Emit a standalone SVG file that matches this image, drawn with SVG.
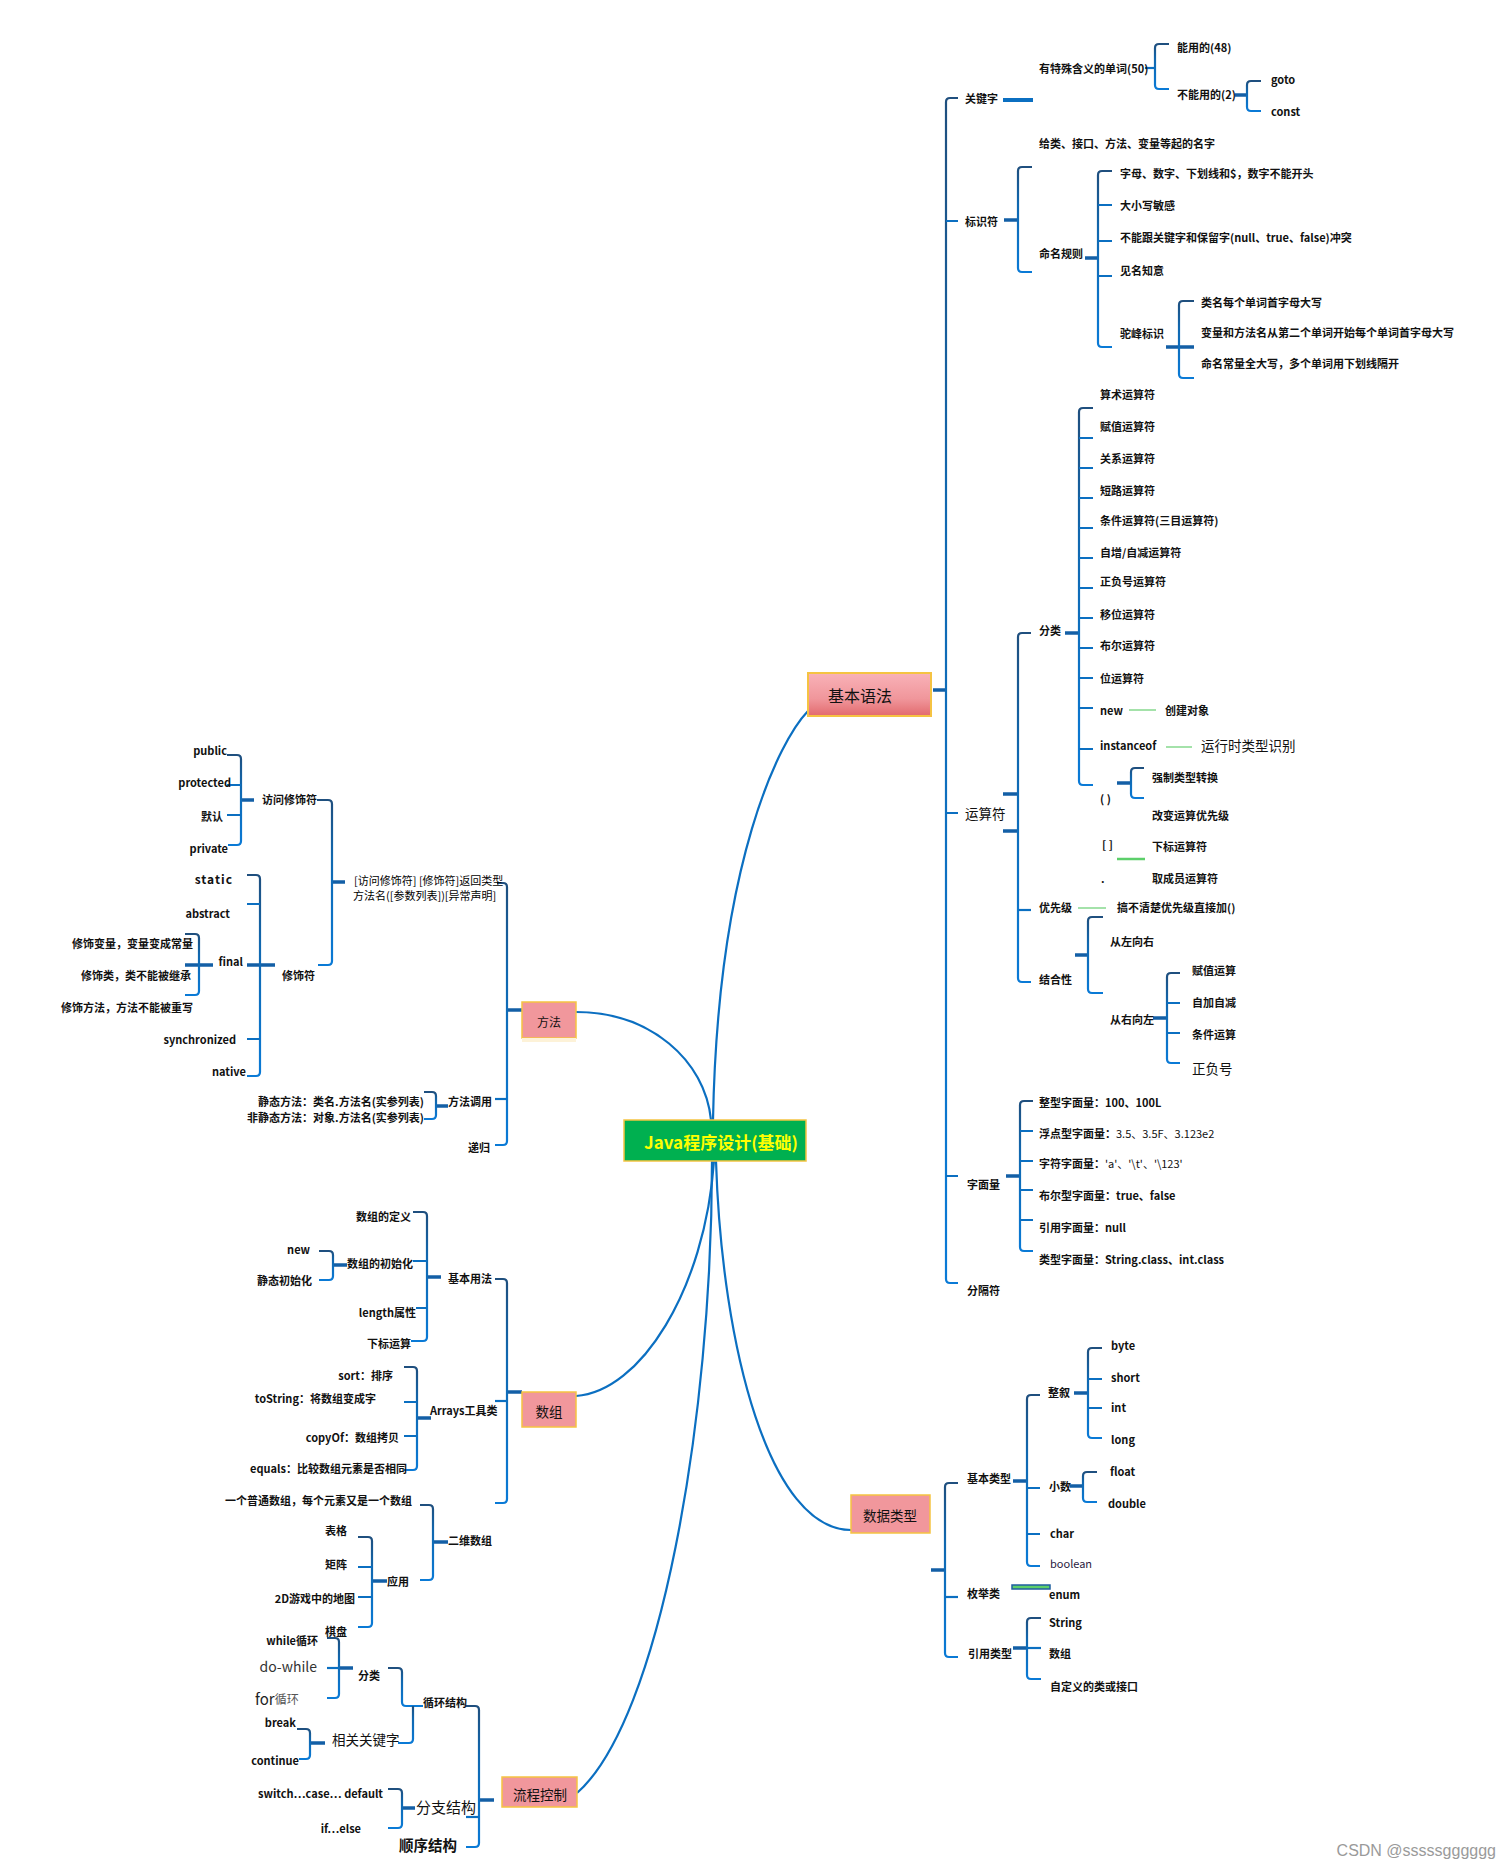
<svg xmlns="http://www.w3.org/2000/svg" width="1511" height="1869" viewBox="0 0 1511 1869">
<defs>
<linearGradient id="g" x1="0" y1="0" x2="0" y2="1"><stop offset="0" stop-color="#1f4f7e"/><stop offset="0.35" stop-color="#1068b0"/><stop offset="1" stop-color="#0a7ad6"/></linearGradient>
<linearGradient id="pk" x1="0" y1="0" x2="0" y2="1"><stop offset="0" stop-color="#f9b2b8"/><stop offset="0.6" stop-color="#f0969b"/><stop offset="1" stop-color="#e26a6e"/></linearGradient>
<style>
text{font-family:'Noto Sans CJK SC','Noto Sans',sans-serif;font-size:11px;font-weight:700;fill:#111;dominant-baseline:central}
.e{text-anchor:end}
.r{font-weight:400}
.m{font-size:13.5px;font-weight:400}
.l{font-size:15px;font-weight:400}
.c{text-anchor:middle}
.b{fill:none;stroke:url(#g);stroke-width:2.2}
.t{fill:none;stroke:#0b6fc1;stroke-width:2.2}
.k{fill:none;stroke:#135fa6;stroke-width:3.5}
.cv{fill:none;stroke:#0b6fc1;stroke-width:2.2}
.gr{stroke:#86d98f;stroke-width:1.5}
.box{fill:#f1979c;stroke:#f5c342;stroke-width:1.5}
</style>
</defs>
<rect width="1511" height="1869" fill="#fff"/>

<g id="connectors">
<path class="cv" d="M713 1120 C718 860 780 740 808 711"/>
<path class="cv" d="M576 1012 C650 1012 705 1060 711 1120"/>
<path class="cv" d="M576 1396 C640 1392 705 1290 714 1161"/>
<path class="cv" d="M716 1161 C722 1350 770 1530 851 1530"/>
<path class="cv" d="M712 1161 C712 1420 660 1720 577 1793"/>

<path class="k" d="M933 690 H946"/>
<path class="b" d="M958 98 H950 Q946 98 946 102 V1279 Q946 1283 950 1283 H958"/>
<path class="t" d="M946 221 H958 M946 813 H958 M946 1176 H958"/>
<path d="M1003 100 H1033" stroke="#0b6fc1" stroke-width="4"/>
<path class="t" d="M1145 68 H1155"/>
<path class="b" d="M1169 44 H1159 Q1155 44 1155 48 V85 Q1155 89 1159 89 H1169"/>
<path class="k" d="M1235 95 H1247"/>
<path class="b" d="M1261 81 H1251 Q1247 81 1247 85 V107 Q1247 111 1251 111 H1261"/>
<path class="k" d="M1004 220 H1018"/>
<path class="b" d="M1032 167 H1022 Q1018 167 1018 171 V268 Q1018 272 1022 272 H1032"/>
<path class="k" d="M1085 258 H1098"/>
<path class="b" d="M1112 171 H1102 Q1098 171 1098 175 V343 Q1098 347 1102 347 H1112"/>
<path class="t" d="M1098 205 H1112 M1098 241 H1112 M1098 276 H1112"/>
<path class="k" d="M1166 347 H1194"/>
<path class="b" d="M1194 301 H1183 Q1179 301 1179 305 V374 Q1179 378 1183 378 H1194"/>
<path class="k" d="M1003 794 H1018 M1003 831 H1018"/>
<path class="b" d="M1031 633 H1022 Q1018 633 1018 637 V978 Q1018 982 1022 982 H1031"/>
<path class="t" d="M1018 910 H1031"/>
<path class="k" d="M1065 633 H1079"/>
<path class="b" d="M1093 408 H1083 Q1079 408 1079 412 V781 Q1079 785 1083 785 H1093"/>
<path class="t" d="M1079 438 H1093 M1079 468 H1093 M1079 498 H1093 M1079 528 H1093 M1079 558 H1093 M1079 588 H1093 M1079 618 H1093 M1079 648 H1093 M1079 678 H1093 M1079 708 H1093 M1079 749 H1093"/>
<path class="gr" d="M1129 710 H1156 M1166 747 H1192 M1078 908 H1106"/>
<path d="M1117 859 H1145" stroke="#5ccf6a" stroke-width="2.5"/>
<path class="k" d="M1117 783 H1131"/>
<path class="b" d="M1144 768 H1135 Q1131 768 1131 772 V794 Q1131 798 1135 798 H1144"/>
<path class="k" d="M1075 955 H1088"/>
<path class="b" d="M1103 917 H1092 Q1088 917 1088 921 V989 Q1088 993 1092 993 H1103"/>
<path class="k" d="M1153 1018 H1167"/>
<path class="b" d="M1180 973 H1171 Q1167 973 1167 977 V1059 Q1167 1063 1171 1063 H1180"/>
<path class="t" d="M1167 1003 H1180 M1167 1033 H1180"/>
<path class="k" d="M1006 1176 H1020"/>
<path class="b" d="M1033 1101 H1024 Q1020 1101 1020 1105 V1247 Q1020 1251 1024 1251 H1033"/>
<path class="t" d="M1020 1131 H1033 M1020 1161 H1033 M1020 1190 H1033 M1020 1220 H1033"/>
<path class="k" d="M931 1570 H945"/>
<path class="b" d="M958 1483 H949 Q945 1483 945 1487 V1653 Q945 1657 949 1657 H958"/>
<path class="t" d="M945 1597 H958"/>
<path class="k" d="M1013 1481 H1027"/>
<path class="b" d="M1040 1395 H1031 Q1027 1395 1027 1399 V1562 Q1027 1566 1031 1566 H1040"/>
<path class="t" d="M1027 1488 H1040 M1027 1534 H1040"/>
<path class="k" d="M1074 1393 H1088"/>
<path class="b" d="M1102 1348 H1092 Q1088 1348 1088 1352 V1434 Q1088 1438 1092 1438 H1102"/>
<path class="t" d="M1088 1379 H1102 M1088 1408 H1102"/>
<path class="k" d="M1070 1486 H1083"/>
<path class="b" d="M1097 1472 H1087 Q1083 1472 1083 1476 V1498 Q1083 1502 1087 1502 H1097"/>
<rect x="1012" y="1585" width="38" height="4" fill="#5ccf6a" stroke="#1f5fa0" stroke-width="1.5"/>
<path class="k" d="M1013 1648 H1027"/>
<path class="b" d="M1041 1618 H1031 Q1027 1618 1027 1622 V1675 Q1027 1679 1031 1679 H1041"/>
<path class="t" d="M1027 1648 H1041"/>

<path class="k" d="M522 1010 H507"/>
<path class="b" d="M497 883 H503 Q507 883 507 887 V1141 Q507 1145 503 1145 H495"/>
<path class="t" d="M495 1099 H507"/>
<path class="k" d="M332 882 H345"/>
<path class="b" d="M317 800 H328 Q332 800 332 804 V961 Q332 965 328 965 H318"/>
<path class="k" d="M254 800 H241"/>
<path class="b" d="M227 755 H237 Q241 755 241 759 V841 Q241 845 237 845 H228"/>
<path class="t" d="M227 785 H241 M227 815 H241"/>
<path class="k" d="M247 965 H275"/>
<path class="b" d="M247 875 H256 Q260 875 260 879 V1072 Q260 1076 256 1076 H247"/>
<path class="t" d="M247 904 H260 M247 1039 H260"/>
<path class="k" d="M185 965 H213"/>
<path class="b" d="M185 934 H195 Q199 934 199 938 V991 Q199 995 195 995 H185"/>
<path class="k" d="M448 1106 H436"/>
<path class="b" d="M424 1092 H432 Q436 1092 436 1096 V1115 Q436 1119 432 1119 H424"/>

<path class="k" d="M522 1392 H507"/>
<path class="b" d="M495 1279 H503 Q507 1279 507 1283 V1499 Q507 1503 503 1503 H495"/>
<path class="t" d="M495 1401 H507"/>
<path class="k" d="M441 1277 H427"/>
<path class="b" d="M413 1212 H423 Q427 1212 427 1216 V1337 Q427 1341 423 1341 H411"/>
<path class="t" d="M413 1261 H427 M416 1308 H427"/>
<path class="k" d="M347 1265 H333"/>
<path class="b" d="M319 1251 H329 Q333 1251 333 1255 V1276 Q333 1280 329 1280 H319"/>
<path class="k" d="M431 1418 H417"/>
<path class="b" d="M404 1367 H413 Q417 1367 417 1371 V1466 Q417 1470 413 1470 H404"/>
<path class="t" d="M404 1402 H417 M404 1436 H417"/>
<path class="k" d="M448 1542 H433"/>
<path class="b" d="M420 1505 H429 Q433 1505 433 1509 V1576 Q433 1580 429 1580 H420"/>
<path class="k" d="M387 1581 H372"/>
<path class="b" d="M358 1537 H368 Q372 1537 372 1541 V1623 Q372 1627 368 1627 H358"/>
<path class="t" d="M358 1567 H372 M358 1597 H372"/>

<path class="k" d="M494 1800 H479"/>
<path class="b" d="M466 1706 H475 Q479 1706 479 1710 V1843 Q479 1847 475 1847 H466"/>
<path class="t" d="M466 1817 H479"/>
<path class="b" d="M388 1668 H398 Q402 1668 402 1672 V1702 Q402 1706 406 1706 H423"/>
<path class="b" d="M413 1706 V1739 Q413 1743 409 1743 H398"/>
<path class="k" d="M353 1668 H339"/>
<path class="b" d="M327 1638 H335 Q339 1638 339 1642 V1694 Q339 1698 335 1698 H327"/>
<path class="t" d="M327 1668 H339"/>
<path class="k" d="M325 1743 H310"/>
<path class="b" d="M297 1729 H306 Q310 1729 310 1733 V1755 Q310 1759 306 1759 H299"/>
<path class="k" d="M415 1808 H402"/>
<path class="b" d="M388 1789 H398 Q402 1789 402 1793 V1824 Q402 1828 398 1828 H388"/>
</g>

<g id="root"><rect x="624" y="1120" width="182" height="41" fill="#00b050" stroke="#f5c342" stroke-width="1.5"/><text x="721" y="1141" class="c" style="font-size:17px;fill:#ffff00">Java程序设计(基础)</text></g>
<g id="basic"><rect x="808" y="673" width="123" height="43" fill="url(#pk)" stroke="#f5c342" stroke-width="2"/><text x="828" y="695" class="r" style="font-size:16px">基本语法</text></g>
<g id="datatype"><rect class="box" x="851" y="1495" width="79" height="38"/><text x="890" y="1515" class="c m">数据类型</text></g>
<g id="method"><rect class="box" x="522" y="1002" width="54" height="36"/><rect x="522" y="1038" width="54" height="4" fill="#fdf2d8"/><text x="549" y="1021" class="c r" style="font-size:12px">方法</text></g>
<g id="array"><rect class="box" x="522" y="1392" width="54" height="35"/><text x="549" y="1411" class="c m">数组</text></g>
<g id="flow"><rect class="box" x="502" y="1777" width="75" height="30"/><text x="540" y="1794" class="c m">流程控制</text></g>

<g id="n-keyword"><text x="965" y="98">关键字</text></g>
<g id="n-special"><text x="1039" y="68">有特殊含义的单词(50)</text></g>
<g id="n-usable"><text x="1177" y="47">能用的(48)</text></g>
<g id="n-unusable"><text x="1177" y="94">不能用的(2)</text></g>
<g id="n-goto"><text x="1271" y="79">goto</text></g>
<g id="n-const"><text x="1271" y="111">const</text></g>
<g id="n-ident"><text x="965" y="221">标识符</text></g>
<g id="n-identdef"><text x="1039" y="143">给类、接口、方法、变量等起的名字</text></g>
<g id="n-naming"><text x="1039" y="253">命名规则</text></g>
<g id="n-nr1"><text x="1120" y="173">字母、数字、下划线和$，数字不能开头</text></g>
<g id="n-nr2"><text x="1120" y="205">大小写敏感</text></g>
<g id="n-nr3"><text x="1120" y="237">不能跟关键字和保留字(null、true、false)冲突</text></g>
<g id="n-nr4"><text x="1120" y="270">见名知意</text></g>
<g id="n-camel"><text x="1120" y="333">驼峰标识</text></g>
<g id="n-c1"><text x="1201" y="302">类名每个单词首字母大写</text></g>
<g id="n-c2"><text x="1201" y="332">变量和方法名从第二个单词开始每个单词首字母大写</text></g>
<g id="n-c3"><text x="1201" y="363">命名常量全大写，多个单词用下划线隔开</text></g>

<g id="n-op"><text x="965" y="813" class="m">运算符</text></g>
<g id="n-opcat"><text x="1039" y="630">分类</text></g>
<g id="n-op1"><text x="1100" y="394">算术运算符</text></g>
<g id="n-op2"><text x="1100" y="426">赋值运算符</text></g>
<g id="n-op3"><text x="1100" y="458">关系运算符</text></g>
<g id="n-op4"><text x="1100" y="490">短路运算符</text></g>
<g id="n-op5"><text x="1100" y="520">条件运算符(三目运算符)</text></g>
<g id="n-op6"><text x="1100" y="552">自增/自减运算符</text></g>
<g id="n-op7"><text x="1100" y="581">正负号运算符</text></g>
<g id="n-op8"><text x="1100" y="614">移位运算符</text></g>
<g id="n-op9"><text x="1100" y="645">布尔运算符</text></g>
<g id="n-op10"><text x="1100" y="678">位运算符</text></g>
<g id="n-new"><text x="1100" y="710">new</text><text x="1165" y="710">创建对象</text></g>
<g id="n-inst"><text x="1100" y="745">instanceof</text><text x="1201" y="745" class="m">运行时类型识别</text></g>
<g id="n-paren"><text x="1100" y="798">( )</text><text x="1152" y="777">强制类型转换</text><text x="1152" y="815">改变运算优先级</text></g>
<g id="n-brk"><text x="1102" y="844">[ ]</text><text x="1152" y="846">下标运算符</text></g>
<g id="n-dot"><text x="1101" y="878">.</text><text x="1152" y="878">取成员运算符</text></g>
<g id="n-prio"><text x="1039" y="907">优先级</text><text x="1117" y="907">搞不清楚优先级直接加()</text></g>
<g id="n-assoc"><text x="1039" y="979">结合性</text></g>
<g id="n-l2r"><text x="1110" y="941">从左向右</text></g>
<g id="n-r2l"><text x="1110" y="1019">从右向左</text></g>
<g id="n-a1"><text x="1192" y="970">赋值运算</text></g>
<g id="n-a2"><text x="1192" y="1002">自加自减</text></g>
<g id="n-a3"><text x="1192" y="1034">条件运算</text></g>
<g id="n-a4"><text x="1192" y="1068" class="m">正负号</text></g>

<g id="n-lit"><text x="967" y="1184">字面量</text></g>
<g id="n-l1"><text x="1039" y="1102">整型字面量：100、100L</text></g>
<g id="n-l2"><text x="1039" y="1133">浮点型字面量：<tspan class="r">3.5、3.5F、3.123e2</tspan></text></g>
<g id="n-l3"><text x="1039" y="1163">字符字面量：<tspan class="r">'a'、'\t'、'\123'</tspan></text></g>
<g id="n-l4"><text x="1039" y="1195">布尔型字面量：true、false</text></g>
<g id="n-l5"><text x="1039" y="1227">引用字面量：null</text></g>
<g id="n-l6"><text x="1039" y="1259">类型字面量：String.class、int.class</text></g>
<g id="n-sep"><text x="967" y="1290">分隔符</text></g>

<g id="n-prim"><text x="967" y="1478">基本类型</text></g>
<g id="n-int"><text x="1048" y="1392">整叙</text></g>
<g id="n-byte"><text x="1111" y="1345">byte</text></g>
<g id="n-short"><text x="1111" y="1377">short</text></g>
<g id="n-intt"><text x="1111" y="1407">int</text></g>
<g id="n-long"><text x="1111" y="1439">long</text></g>
<g id="n-dec"><text x="1049" y="1486">小数</text></g>
<g id="n-float"><text x="1110" y="1471">float</text></g>
<g id="n-double"><text x="1108" y="1503">double</text></g>
<g id="n-char"><text x="1050" y="1533">char</text></g>
<g id="n-bool"><text x="1050" y="1563" class="r" style="fill:#2a1a40">boolean</text></g>
<g id="n-enumc"><text x="967" y="1593">枚举类</text><text x="1049" y="1594">enum</text></g>
<g id="n-ref"><text x="968" y="1653">引用类型</text></g>
<g id="n-str"><text x="1049" y="1622">String</text></g>
<g id="n-arr"><text x="1049" y="1653">数组</text></g>
<g id="n-cust"><text x="1050" y="1686">自定义的类或接口</text></g>

<g id="n-sig"><text x="354" y="880" class="r" style="fill:#000">[访问修饰符]  [修饰符]返回类型</text><text x="353" y="895" class="r" style="fill:#000">方法名([参数列表])[异常声明]</text></g>
<g id="n-access"><text x="262" y="799">访问修饰符</text></g>
<g id="n-public"><text x="227" y="750" class="e">public</text></g>
<g id="n-protected"><text x="231" y="782" class="e">protected</text></g>
<g id="n-default"><text x="223" y="816" class="e">默认</text></g>
<g id="n-private"><text x="228" y="848" class="e">private</text></g>
<g id="n-mod"><text x="282" y="975">修饰符</text></g>
<g id="n-static"><text x="233" y="878" class="e" style="font-size:12px;letter-spacing:1px">static</text></g>
<g id="n-abstract"><text x="230" y="913" class="e">abstract</text></g>
<g id="n-final"><text x="243" y="961" class="e">final</text></g>
<g id="n-f1"><text x="193" y="943" class="e">修饰变量，变量变成常量</text></g>
<g id="n-f2"><text x="191" y="975" class="e">修饰类，类不能被继承</text></g>
<g id="n-f3"><text x="193" y="1007" class="e">修饰方法，方法不能被重写</text></g>
<g id="n-sync"><text x="236" y="1039" class="e">synchronized</text></g>
<g id="n-native"><text x="246" y="1071" class="e">native</text></g>
<g id="n-call"><text x="448" y="1101">方法调用</text></g>
<g id="n-call1"><text x="424" y="1101" class="e">静态方法：类名.方法名(实参列表)</text></g>
<g id="n-call2"><text x="424" y="1117" class="e">非静态方法：对象.方法名(实参列表)</text></g>
<g id="n-rec"><text x="468" y="1147">递归</text></g>

<g id="n-basicuse"><text x="448" y="1278">基本用法</text></g>
<g id="n-adef"><text x="411" y="1216" class="e">数组的定义</text></g>
<g id="n-ainit"><text x="413" y="1263" class="e">数组的初始化</text></g>
<g id="n-anew"><text x="310" y="1249" class="e">new</text></g>
<g id="n-asinit"><text x="312" y="1280" class="e">静态初始化</text></g>
<g id="n-alen"><text x="416" y="1312" class="e">length属性</text></g>
<g id="n-aidx"><text x="411" y="1343" class="e">下标运算</text></g>
<g id="n-arrays"><text x="430" y="1410">Arrays工具类</text></g>
<g id="n-sort"><text x="393" y="1375" class="e">sort：排序</text></g>
<g id="n-tostr"><text x="376" y="1398" class="e">toString：将数组变成字</text></g>
<g id="n-copy"><text x="399" y="1437" class="e">copyOf：数组拷贝</text></g>
<g id="n-eq"><text x="407" y="1468" class="e">equals：比较数组元素是否相同</text></g>
<g id="n-2d"><text x="448" y="1540">二维数组</text></g>
<g id="n-2ddef"><text x="412" y="1500" class="e">一个普通数组，每个元素又是一个数组</text></g>
<g id="n-app"><text x="387" y="1581">应用</text></g>
<g id="n-table"><text x="347" y="1530" class="e">表格</text></g>
<g id="n-matrix"><text x="347" y="1564" class="e">矩阵</text></g>
<g id="n-map"><text x="355" y="1598" class="e">2D游戏中的地图</text></g>
<g id="n-chess"><text x="325" y="1631">棋盘</text></g>

<g id="n-loop"><text x="423" y="1702">循环结构</text></g>
<g id="n-loopcat"><text x="358" y="1675">分类</text></g>
<g id="n-while"><text x="318" y="1640" class="e">while循环</text></g>
<g id="n-dowhile"><text x="317" y="1666" class="e" style="font-size:14px;font-weight:400;fill:#333">do-while</text></g>
<g id="n-for"><text x="255" y="1698" style="font-size:15px;font-weight:400;fill:#222">for<tspan style="font-size:12px;fill:#555">循环</tspan></text></g>
<g id="n-kw"><text x="332" y="1739" class="m">相关关键字</text></g>
<g id="n-break"><text x="296" y="1722" class="e">break</text></g>
<g id="n-continue"><text x="299" y="1760" class="e">continue</text></g>
<g id="n-branch"><text x="416" y="1806" class="l">分支结构</text></g>
<g id="n-switch"><text x="383" y="1793" class="e">switch…case… default</text></g>
<g id="n-if"><text x="361" y="1828" class="e">if…else</text></g>
<g id="n-seq"><text x="399" y="1844" style="font-size:14.5px">顺序结构</text></g>

<text x="1496" y="1850" class="e" style="font-family:'Liberation Sans',sans-serif;font-size:16px;font-weight:400;fill:#9a9a9a">CSDN @sssssgggggg</text>
</svg>
